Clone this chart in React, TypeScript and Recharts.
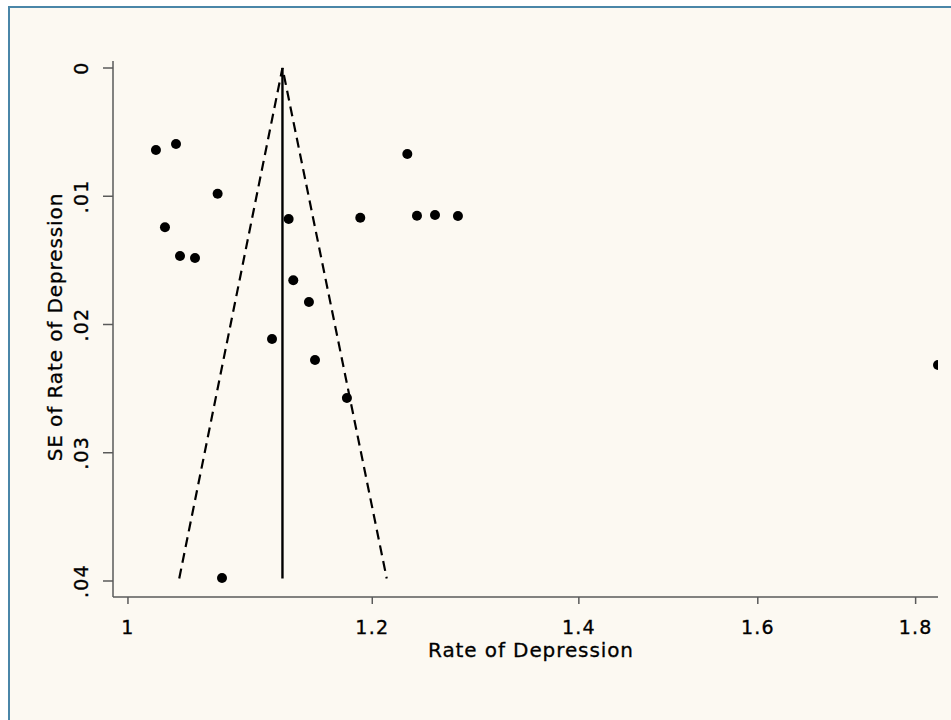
import React from 'react';
import { ScatterChart, Scatter, XAxis, YAxis } from 'recharts';

// Study estimates (rate of depression) and their standard errors
const rates = [1.0211, 1.0365, 1.0692, 1.028, 1.0396, 1.0513, 1.1274, 1.1313, 1.1446, 1.1135, 1.1498, 1.1775, 1.1893, 1.2318, 1.2407, 1.2575, 1.2792, 1.0727, 1.8303];
const ses = [0.00639, 0.00593, 0.0098, 0.01242, 0.01466, 0.01481, 0.01177, 0.01655, 0.01825, 0.02113, 0.02277, 0.02573, 0.01167, 0.00671, 0.01152, 0.01146, 0.01154, 0.03977, 0.02316];

// Pooled estimate line and pseudo 95% confidence limits (funnel)
const pooledX = [1.1222, 1.1222];
const pooledY = [0, 0.0398];
const funnelX = [1.039, 1.1222, 1.213];
const funnelY = [0.0398, 0, 0.0398];

const xTicks = [1, 1.2, 1.4, 1.6, 1.8];
const xTickLabels = ['1', '1.2', '1.4', '1.6', '1.8'];
const yTicks = [0, 0.01, 0.02, 0.03, 0.04];
const yTickLabels = ['0', '.01', '.02', '.03', '.04'];

const points = rates.map((r, i) => ({ x: r, y: ses[i] }));
const pooled = pooledX.map((x, i) => ({ x, y: pooledY[i] }));
const funnel = funnelX.map((x, i) => ({ x, y: funnelY[i] }));

const FONT = '"DejaVu Sans", "Liberation Sans", sans-serif';
const AXIS = '#5a5a5a';

const XTick = (props: any) => {
  const { x, y, payload } = props;
  const i = xTicks.indexOf(payload.value);
  return (
    <text x={x} y={y} dy={14} textAnchor="middle" fontFamily={FONT} fontSize={19} letterSpacing={1.2} fill="#000" stroke="#000" strokeWidth={0.35}>
      {i >= 0 ? xTickLabels[i] : payload.value}
    </text>
  );
};

const YTick = (props: any) => {
  const { x, y, payload } = props;
  const i = yTicks.indexOf(payload.value);
  return (
    <text x={x} y={y} transform={`rotate(-90, ${x}, ${y})`} textAnchor="middle" fontFamily={FONT} fontSize={19} letterSpacing={1.2} fill="#000" stroke="#000" strokeWidth={0.35}>
      {i >= 0 ? yTickLabels[i] : payload.value}
    </text>
  );
};

const Dot = (props: any) => {
  const { cx, cy } = props;
  return <circle cx={cx} cy={cy} r={5} fill="#000" />;
};

const NoDot = () => null;

export default function App() {
  return (
    <div>
      <div
        style={{
          position: 'absolute',
          left: 8,
          top: 6,
          width: 943,
          height: 714,
          boxSizing: 'border-box',
          borderTop: '2px solid #4a86a8',
          borderLeft: '2px solid #4a86a8',
          background: '#fcf9f2',
        }}
      />
      <div style={{ position: 'absolute', left: 0, top: 0, width: 951, height: 720 }}>
        <ScatterChart width={951} height={720} margin={{ top: 61, right: 13, bottom: 63, left: 33 }}>
          <XAxis
            type="number"
            dataKey="x"
            scale="log"
            domain={[0.9889, 1.8303]}
            ticks={xTicks}
            tick={<XTick />}
            tickSize={7}
            tickMargin={16}
            height={60}
            stroke={AXIS}
            strokeWidth={1.5}
            interval={0}
            allowDataOverflow
            label={{
              content: () => (
                <text x={531} y={657} textAnchor="middle" fontFamily={FONT} fontSize={20} letterSpacing={0.9} fill="#000" stroke="#000" strokeWidth={0.3}>
                  Rate of Depression
                </text>
              ),
            }}
          />
          <YAxis
            type="number"
            dataKey="y"
            reversed
            domain={[-0.000546, 0.041248]}
            ticks={yTicks}
            tick={<YTick />}
            tickSize={10}
            tickMargin={15}
            width={80}
            stroke={AXIS}
            strokeWidth={1.5}
            interval={0}
            allowDataOverflow
            label={{
              content: () => (
                <text x={62} y={327} transform="rotate(-90, 62, 327)" textAnchor="middle" fontFamily={FONT} fontSize={20} letterSpacing={0.9} fill="#000" stroke="#000" strokeWidth={0.3}>
                  SE of Rate of Depression
                </text>
              ),
            }}
          />
          <Scatter
            data={funnel}
            shape={<NoDot />}
            line={{ stroke: '#000', strokeWidth: 2.2, strokeDasharray: '10 6' }}
            isAnimationActive={false}
          />
          <Scatter
            data={pooled}
            shape={<NoDot />}
            line={{ stroke: '#000', strokeWidth: 2.4 }}
            isAnimationActive={false}
          />
          <Scatter data={points} shape={<Dot />} isAnimationActive={false} />
        </ScatterChart>
      </div>
    </div>
  );
}
